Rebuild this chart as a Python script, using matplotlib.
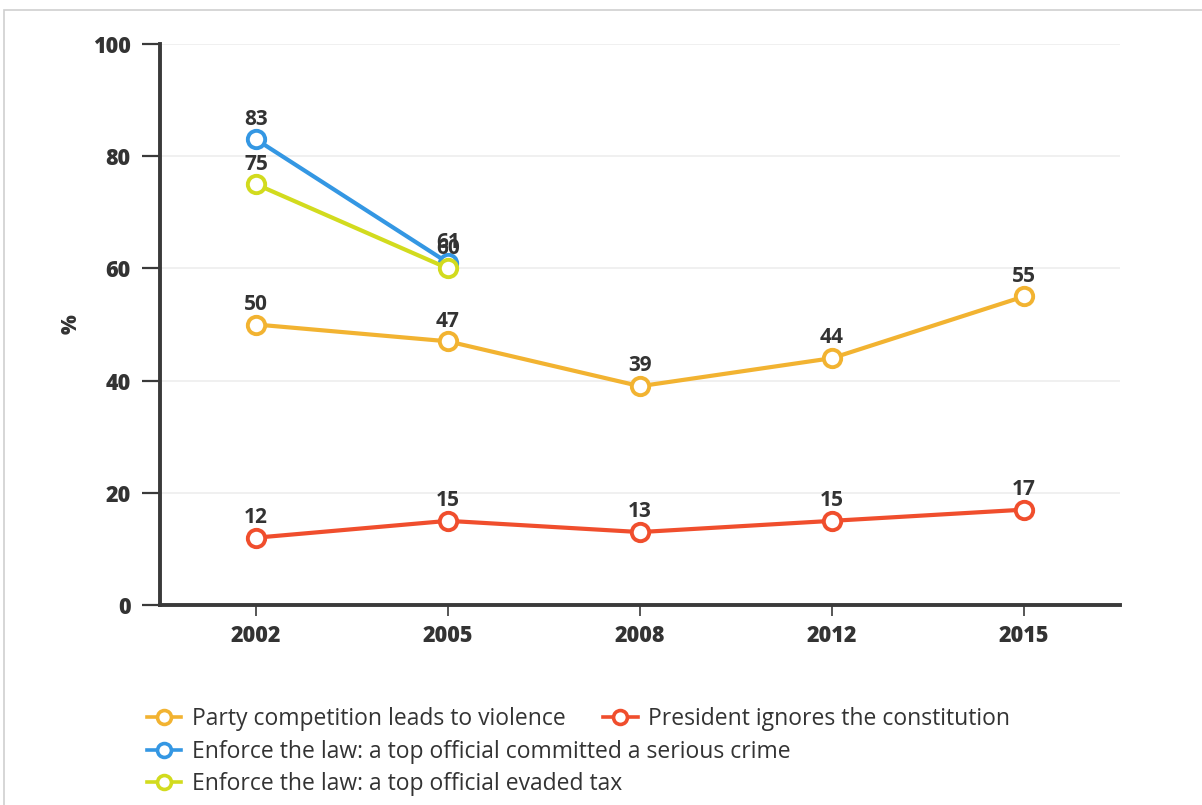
import matplotlib
matplotlib.use("Agg")
import matplotlib.pyplot as plt
from matplotlib.lines import Line2D
from matplotlib.patches import Rectangle
import numpy as np

years = ["2002", "2005", "2008", "2012", "2015"]
party_violence = [50, 47, 39, 44, 55]
president_ignores = [12, 15, 13, 15, 17]
enforce_crime = [83, 61, None, None, None]
enforce_tax = [75, 60, None, None, None]

series_names = [
    "Party competition leads to violence",
    "President ignores the constitution",
    "Enforce the law: a top official committed a serious crime",
    "Enforce the law: a top official evaded tax",
]
colors = ["#F2B331", "#F04E2D", "#3497E3", "#D2DB1E"]
yticks = [0, 20, 40, 60, 80, 100]

plt.rcParams['font.family'] = ['Open Sans', 'DejaVu Sans']

fig = plt.figure(figsize=(12.02, 8.05), dpi=100)
fig.patch.set_facecolor("white")
ax = fig.add_axes([160 / 1202, 1 - 605 / 805, 960 / 1202, (605 - 44) / 805])

# frame border of the screenshot
fig.add_artist(Rectangle((4 / 1202, -0.01), 1.2, (805 - 10) / 805 + 0.01, transform=fig.transFigure,
                         fill=False, edgecolor="#cfcfcf", linewidth=1.2))

x = np.arange(len(years))
all_series = [party_violence, president_ignores, enforce_crime, enforce_tax]
for vals, c, name in zip(all_series, colors, series_names):
    xs = [xi for xi, v in zip(x, vals) if v is not None]
    ys = [v for v in vals if v is not None]
    ax.plot(xs, ys, color=c, linewidth=3, marker="o", markersize=12.5,
            markerfacecolor="white", markeredgecolor=c, markeredgewidth=2.8,
            zorder=3, label=name)
    for xi, yi in zip(xs, ys):
        ax.annotate(str(yi), (xi, yi), xytext=(0, 7), textcoords="offset points",
                    ha="center", va="bottom", fontsize=15, fontweight="bold",
                    color="#333333", zorder=5)

ax.set_xlim(-0.5, 4.5)
ax.set_ylim(0, 100)
ax.set_xticks(x)
ax.set_xticklabels(years)
ax.set_yticks(yticks)
ax.grid(axis="y", color="#eeeeee", linewidth=1.2, zorder=0)
ax.set_axisbelow(True)
for s in ["top", "right"]:
    ax.spines[s].set_visible(False)
for s in ["left", "bottom"]:
    ax.spines[s].set_color("#3a3a3a")
    ax.spines[s].set_linewidth(2.8)
ax.tick_params(axis="y", length=13, width=1.6, color="#3a3a3a", pad=8,
               labelsize=15.5, labelcolor="#333333")
ax.tick_params(axis="x", length=8, width=1.2, color="#3a3a3a", pad=6,
               labelsize=15.5, labelcolor="#333333")
for lab in ax.get_xticklabels() + ax.get_yticklabels():
    lab.set_fontweight("heavy")
ax.set_ylabel("%", fontsize=15, fontweight="heavy", color="#333333", labelpad=8)

def mk(c):
    return Line2D([0], [0], color=c, linewidth=2.6, marker="o", markersize=10,
                  markerfacecolor="white", markeredgecolor=c, markeredgewidth=2.6)

leg1 = fig.legend([mk(colors[0]), mk(colors[1])], series_names[:2], ncol=2,
                  loc="center left", bbox_to_anchor=(147 / 1202, 1 - 719 / 805),
                  frameon=False, fontsize=16.5, handlelength=1.5, handletextpad=0.45,
                  columnspacing=1.65, borderaxespad=0, borderpad=0)
for t in leg1.get_texts():
    t.set_color("#333333")
leg2 = fig.legend([mk(colors[2]), mk(colors[3])], series_names[2:], ncol=1,
                  loc="center left", bbox_to_anchor=(147 / 1202, 1 - 768 / 805),
                  frameon=False, fontsize=16.5, handlelength=1.5, handletextpad=0.45,
                  labelspacing=0.36, borderaxespad=0, borderpad=0)
for t in leg2.get_texts():
    t.set_color("#333333")

fig.savefig("out.png", dpi=100, facecolor="white")
